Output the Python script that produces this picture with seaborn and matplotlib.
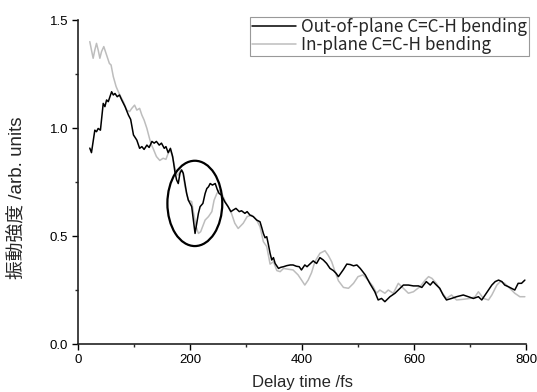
import numpy as np
import pandas as pd
import matplotlib
matplotlib.use("Agg")
import matplotlib.pyplot as plt
from matplotlib.patches import Ellipse
from matplotlib.ticker import MultipleLocator
import seaborn as sns

# ---- data ----
out_t = [21, 24, 30, 33, 36, 40, 45, 48, 51, 54, 60, 63, 66, 70, 74, 78, 84, 90, 94, 99,
         105, 110, 114, 118, 123, 127, 132, 136, 140, 145, 149, 154, 157, 161, 165, 169, 173, 176, 179, 182,
         185, 188, 191, 194, 197, 200, 203, 206, 209, 212, 215, 218, 223, 227, 230, 233, 236, 240, 245, 249,
         252, 256, 262, 268, 273, 277, 282, 288, 292, 298, 302, 307, 313, 319, 325, 328, 331, 334, 337, 340,
         343, 346, 349, 352, 358, 362, 367, 373, 379, 384, 390, 395, 399, 405, 409, 414, 420, 426, 432, 438,
         444, 450, 456, 461, 465, 469, 474, 480, 486, 492, 498, 504, 513, 521, 530, 536, 542, 548, 557, 566,
         575, 581, 590, 599, 608, 614, 622, 629, 634, 640, 646, 652, 658, 667, 676, 688, 697, 706, 715, 721,
         727, 733, 739, 745, 751, 757, 762, 768, 774, 780, 786, 792, 798]
out_v = [0.907, 0.886, 0.99, 0.983, 0.998, 0.99, 1.114, 1.099, 1.13, 1.122, 1.168, 1.153, 1.16, 1.145, 1.153, 1.13, 1.099, 1.06, 1.04, 0.968,
         0.944, 0.906, 0.914, 0.901, 0.921, 0.91, 0.938, 0.93, 0.938, 0.921, 0.93, 0.906, 0.914, 0.886, 0.906, 0.868, 0.798, 0.76, 0.743, 0.79,
         0.806, 0.79, 0.743, 0.697, 0.666, 0.651, 0.636, 0.574, 0.512, 0.558, 0.605, 0.636, 0.651, 0.697, 0.72, 0.728, 0.743, 0.736, 0.743, 0.713,
         0.697, 0.69, 0.659, 0.636, 0.613, 0.62, 0.628, 0.613, 0.617, 0.605, 0.613, 0.597, 0.59, 0.574, 0.566, 0.54, 0.512, 0.492, 0.497, 0.46,
         0.42, 0.389, 0.40, 0.373, 0.35, 0.355, 0.358, 0.363, 0.366, 0.366, 0.36, 0.358, 0.343, 0.366, 0.358, 0.37, 0.385, 0.373, 0.40, 0.389,
         0.373, 0.35, 0.34, 0.327, 0.312, 0.327, 0.345, 0.37, 0.368, 0.362, 0.366, 0.35, 0.32, 0.281, 0.242, 0.204, 0.211, 0.196, 0.219, 0.235,
         0.258, 0.273, 0.273, 0.269, 0.269, 0.262, 0.289, 0.273, 0.289, 0.273, 0.258, 0.227, 0.204, 0.211, 0.219, 0.227, 0.219, 0.211, 0.219, 0.204,
         0.227, 0.25, 0.273, 0.289, 0.296, 0.289, 0.273, 0.266, 0.258, 0.25, 0.281, 0.281, 0.296]

in_t = [21, 24, 27, 30, 33, 36, 39, 42, 46, 51, 56, 59, 63, 68, 72, 76, 81, 87, 92, 96,
        101, 105, 110, 114, 118, 123, 126, 130, 134, 140, 146, 152, 157, 161, 165, 170, 175, 179, 183, 187,
        191, 197, 203, 206, 211, 215, 219, 227, 233, 239, 243, 248, 252, 257, 263, 268, 274, 280, 286, 295,
        302, 310, 319, 325, 331, 337, 343, 349, 355, 361, 367, 376, 384, 393, 401, 405, 411, 417, 423, 432,
        441, 447, 453, 459, 465, 474, 483, 492, 500, 509, 518, 527, 533, 539, 548, 554, 563, 572, 581, 590,
        599, 611, 620, 626, 632, 640, 649, 658, 667, 676, 688, 700, 709, 715, 724, 733, 739, 748, 754, 762,
        771, 780, 789, 798]
in_v = [1.40, 1.361, 1.323, 1.361, 1.392, 1.361, 1.323, 1.354, 1.377, 1.338, 1.299, 1.292, 1.238, 1.192, 1.168, 1.146, 1.122, 1.083, 1.076, 1.091,
        1.106, 1.083, 1.091, 1.06, 1.037, 0.998, 0.968, 0.929, 0.906, 0.868, 0.85, 0.86, 0.855, 0.883, 0.90, 0.852, 0.79, 0.782, 0.806, 0.798,
        0.728, 0.666, 0.659, 0.613, 0.543, 0.512, 0.52, 0.574, 0.59, 0.613, 0.666, 0.697, 0.713, 0.697, 0.659, 0.636, 0.605, 0.559, 0.535, 0.559,
        0.59, 0.597, 0.574, 0.543, 0.474, 0.451, 0.37, 0.381, 0.34, 0.335, 0.35, 0.346, 0.343, 0.32, 0.289, 0.273, 0.296, 0.33, 0.381, 0.42,
        0.432, 0.41, 0.381, 0.335, 0.293, 0.262, 0.258, 0.281, 0.312, 0.32, 0.296, 0.266, 0.235, 0.25, 0.235, 0.25, 0.235, 0.281, 0.258, 0.235,
        0.242, 0.266, 0.296, 0.312, 0.304, 0.281, 0.242, 0.211, 0.227, 0.204, 0.207, 0.211, 0.219, 0.242, 0.211, 0.204, 0.227, 0.273, 0.289, 0.281,
        0.258, 0.235, 0.219, 0.219]

labels = ["Out-of-plane C=C-H bending", "In-plane C=C-H bending"]
xlabel = "Delay time /fs"
ylabel = "振動強度 /arb. units"
xticks = [0, 200, 400, 600, 800]
yticks = [0.0, 0.5, 1.0, 1.5]

# ---- style ----
sns.set_style("ticks")
plt.rcParams["font.family"] = ["Liberation Sans", "Noto Sans CJK JP", "DejaVu Sans"]

fig = plt.figure(figsize=(5.37, 3.92), dpi=100)
ax = fig.add_axes([0.1453, 0.1224, 0.8342, 0.8265])

df_out = pd.DataFrame({"t": out_t, "v": out_v})
df_in = pd.DataFrame({"t": in_t, "v": in_v})

sns.lineplot(data=df_in, x="t", y="v", ax=ax, color="#bdbdbd", lw=1.1, label=labels[1], zorder=2)
sns.lineplot(data=df_out, x="t", y="v", ax=ax, color="black", lw=1.1, label=labels[0], zorder=3)

ell = Ellipse((208.6, 0.651), width=98, height=0.395, fill=False, edgecolor="black", lw=1.6, zorder=4)
ax.add_patch(ell)

ax.set_xlim(0, 800)
ax.set_ylim(0, 1.5)
ax.set_xticks(xticks)
ax.set_yticks(yticks)
ax.set_yticklabels([f"{v:.1f}" for v in yticks])
ax.xaxis.set_minor_locator(MultipleLocator(100))
ax.yaxis.set_minor_locator(MultipleLocator(0.25))
ax.tick_params(axis="both", which="major", direction="out", length=4, width=1, labelsize=9.5, colors="black", pad=3)
ax.tick_params(axis="both", which="minor", direction="out", length=2, width=1)

for s in ["top", "right"]:
    ax.spines[s].set_visible(False)
for s in ["left", "bottom"]:
    ax.spines[s].set_linewidth(1.2)
    ax.spines[s].set_color("#222222")

ax.set_xlabel(xlabel, fontsize=12, labelpad=7)
ax.set_ylabel(ylabel, fontsize=13.5, family=["Liberation Sans", "Noto Sans CJK JP"])
ax.yaxis.set_label_coords(-0.118, 0.45)

handles, labs = ax.get_legend_handles_labels()
order = [labs.index(labels[0]), labs.index(labels[1])]
leg = ax.legend([handles[i] for i in order], [labs[i] for i in order],
                loc="upper right", bbox_to_anchor=(529 / 537, 1 - 16.5 / 392),
                bbox_transform=fig.transFigure,
                prop={"family": ["Noto Sans CJK JP"], "size": 12.3},
                frameon=True, fancybox=False, edgecolor="#999999", framealpha=1,
                handlelength=2.6, handletextpad=0.3, borderpad=0.1, labelspacing=0.0,
                borderaxespad=0)
leg.get_frame().set_linewidth(0.8)

fig.savefig("out.png", dpi=100)
